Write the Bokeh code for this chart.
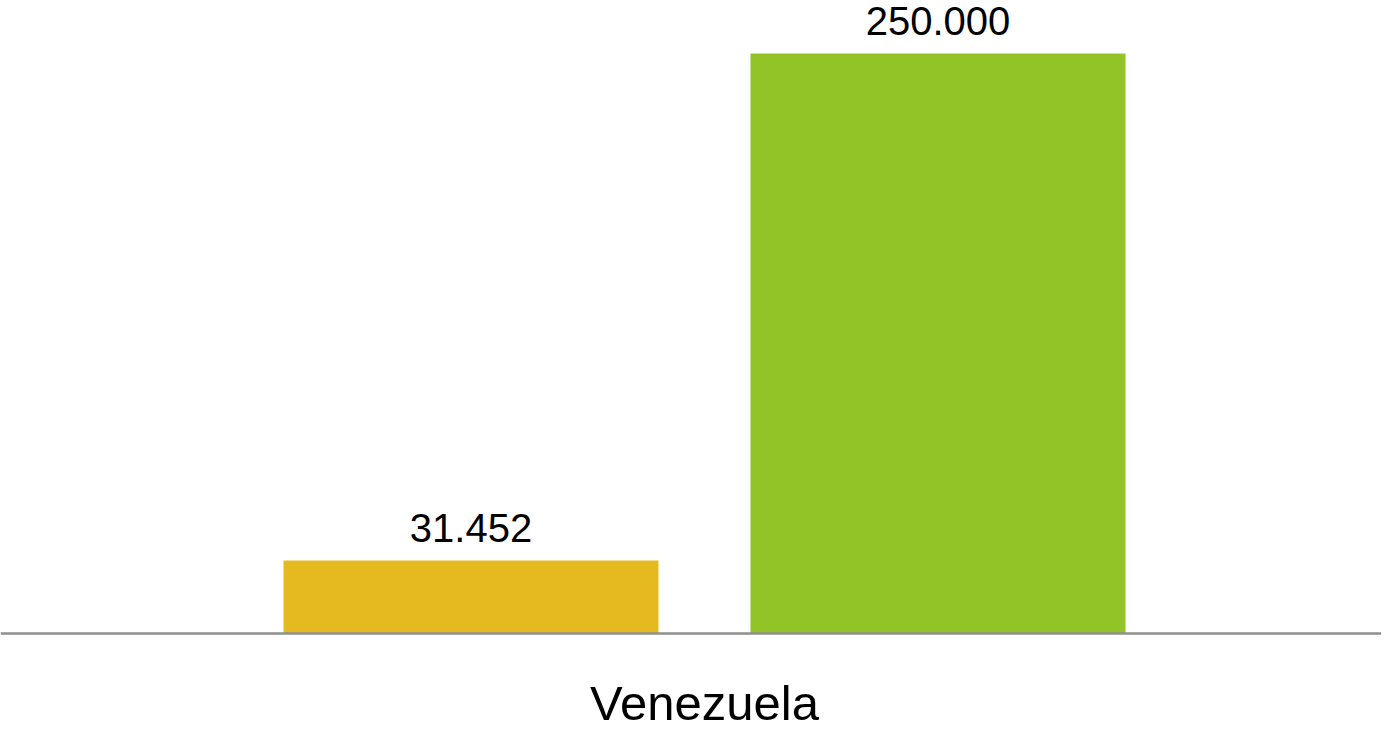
from bokeh.plotting import figure
from bokeh.models import Range1d, Span, ColumnDataSource
from bokeh.core.properties import value
from bokeh.embed import file_html
from bokeh.resources import INLINE

# Data
category = "Venezuela"
series = ["Serie 1", "Serie 2"]
values = [31452, 250000]
colors = ["#E5B920", "#92C327"]
labels = [f"{v:,}".replace(",", ".") for v in values]

W, H = 1381, 729
y0, y1 = -41379, 272845
upp = (y1 - y0) / H  # data units per pixel

p = figure(width=W, height=H, output_backend="svg", toolbar_location=None,
           x_range=Range1d(-0.5075, 2.4497),
           y_range=Range1d(y0, y1),
           min_border=0, outline_line_color=None)
p.xaxis.visible = False
p.yaxis.visible = False
p.grid.visible = False
p.background_fill_color = "white"
p.border_fill_color = "white"

xs = [i + 0.5 for i in range(len(series))]
src = ColumnDataSource(dict(x=xs, top=values, color=colors, label=labels,
                            ly=[v + 33 * upp for v in values]))
p.vbar(x="x", top="top", bottom=0, width=0.803, color="color", line_color=None, source=src)

p.text(x="x", y="ly", text="label", source=src, text_align="center",
       text_baseline="alphabetic", text_font=value("Liberation Sans"),
       text_font_size="40px", text_color="#000000")

p.add_layout(Span(location=0, dimension="width", line_color="#8f8f8f", line_width=2.5))

p.text(x=[sum(xs) / len(xs)], y=[-69 * upp], text=[category], text_align="center",
       text_baseline="alphabetic", text_font=value("Liberation Sans"),
       text_font_size="49px", text_color="#000000")

open("out.html", "w").write(file_html(p, INLINE))
